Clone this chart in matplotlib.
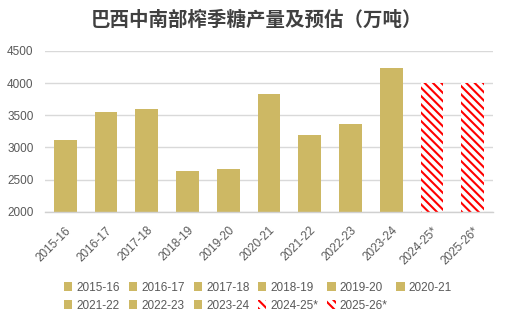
import matplotlib.pyplot as plt
import matplotlib as mpl
from matplotlib.patches import Patch

plt.rcParams['font.family'] = ['Liberation Sans', 'Noto Sans CJK SC', 'DejaVu Sans']
mpl.rcParams['hatch.linewidth'] = 1.5

seasons = ['2015-16', '2016-17', '2017-18', '2018-19', '2019-20', '2020-21',
           '2021-22', '2022-23', '2023-24', '2024-25*', '2025-26*']
output = [3120, 3555, 3605, 2640, 2670, 3830, 3200, 3370, 4240, 4000, 4000]
is_forecast = [False] * 9 + [True] * 2

GOLD = '#cdb864'
RED = '#ff0000'
TEXT = '#595959'
HATCH = '\\\\\\\\'

fig = plt.figure(figsize=(5.09, 3.26), dpi=100)
ax = fig.add_axes([0.088, 0.350, 0.881, 0.494])

x = range(len(seasons))
handles = []
for i, (season, value, fc) in enumerate(zip(seasons, output, is_forecast)):
    if fc:
        # forecast seasons: red diagonal stripes on white
        ax.bar(i, value - 2000, bottom=2000, width=0.56, facecolor='white',
               edgecolor=RED, linewidth=0, hatch=HATCH, zorder=2)
        handles.append(Patch(facecolor='white', edgecolor=RED, linewidth=0,
                             hatch=HATCH, label=season))
    else:
        ax.bar(i, value - 2000, bottom=2000, width=0.56, color=GOLD, zorder=2)
        handles.append(Patch(facecolor=GOLD, edgecolor='none', label=season))

ax.set_ylim(2000, 4500)
ax.set_xlim(-0.5, len(seasons) - 0.5)
ax.set_yticks(range(2000, 4501, 500))
ax.set_xticks(list(x))
ax.set_xticklabels(seasons, rotation=45, ha='right', rotation_mode='anchor')
ax.tick_params(length=0, colors=TEXT, labelsize=8.5)
ax.tick_params(axis='x', pad=9)
ax.tick_params(axis='y', pad=8)
ax.grid(axis='y', color='#d9d9d9', linewidth=1, zorder=0)
for side in ['left', 'right', 'top']:
    ax.spines[side].set_visible(False)
ax.spines['bottom'].set_color('#d0d0d0')
ax.spines['bottom'].set_linewidth(1)

fig.text(0.503, 0.938, '巴西中南部榨季糖产量及预估（万吨）', ha='center', va='center',
         fontsize=14, fontweight='bold', color='#404040',
         family=['Noto Sans CJK SC'])

# reorder so the legend reads row by row
order = [0, 6, 1, 7, 2, 8, 3, 9, 4, 10, 5]
leg = fig.legend([handles[k] for k in order], [seasons[k] for k in order],
                 ncol=6, loc='center', bbox_to_anchor=(0.507, 0.09),
                 frameon=False, fontsize=8.5, handlelength=0.7, handleheight=0.7,
                 handletextpad=0.35, columnspacing=0.75, labelspacing=0.5)
for t in leg.get_texts():
    t.set_color(TEXT)

fig.savefig('out.png', dpi=100)
